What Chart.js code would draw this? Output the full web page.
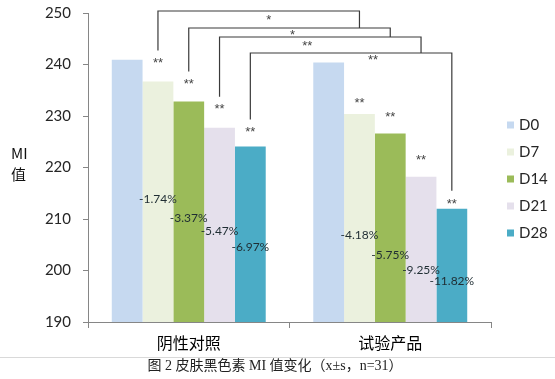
<!DOCTYPE html>
<html>
<head>
<meta charset="utf-8">
<script src="https://cdn.jsdelivr.net/npm/chart.js@4"></script>
<style>
html,body{margin:0;padding:0;background:#fff;}
#wrap{width:555px;height:379px;position:relative;}
</style>
</head>
<body>
<div id="wrap"><canvas id="c" width="555" height="379"></canvas></div>
<script>
// ---- data ----
const categories = ['阴性对照', '试验产品'];
const seriesNames = ['D0', 'D7', 'D14', 'D21', 'D28'];
const valuesD0  = [240.9, 240.4];
const valuesD7  = [236.7, 230.4];
const valuesD14 = [232.8, 226.6];
const valuesD21 = [227.7, 218.2];
const valuesD28 = [224.1, 212.0];
const pctD0  = ['', ''];
const pctD7  = ['-1.74%', '-4.18%'];
const pctD14 = ['-3.37%', '-5.75%'];
const pctD21 = ['-5.47%', '-9.25%'];
const pctD28 = ['-6.97%', '-11.82%'];
const starsD0  = ['', ''];
const starsD7  = ['**', '**'];
const starsD14 = ['**', '**'];
const starsD21 = ['**', '**'];
const starsD28 = ['**', '**'];
const bracketSeries = ['D7', 'D14', 'D21', 'D28'];
const bracketStars  = ['*', '*', '**', '**'];
const yTicks = [190, 200, 210, 220, 230, 240, 250];
const axisTitle = ['MI', '值'];
const caption = '图 2 皮肤黑色素 MI 值变化（x±s，n=31）';

// ---- styles ----
const colors = ['#c6d9f0', '#ebf1de', '#9bbb59', '#e5e0ec', '#4bacc6'];
const allValues = [valuesD0, valuesD7, valuesD14, valuesD21, valuesD28];
const allPct = [pctD0, pctD7, pctD14, pctD21, pctD28];
const allStars = [starsD0, starsD7, starsD14, starsD21, starsD28];
// label style offsets (pixels)
const pctOffsets = [[0, -3, 6, 6, 13], [0, 17, 27, 21, 16]];
const starOffsets = [[0, 21, 20, 21, 17], [0, 14, 19, 19, 7]];
const bracketLevels = [-2, 15, 24, 40];
const bracketStarDx = [10, 3, -13, 22];
const bracketStarDy = [6, 4, 6, 4];

const datasets = seriesNames.map((n, i) => ({
  label: n,
  data: allValues[i],
  backgroundColor: colors[i],
  borderWidth: 0,
  categoryPercentage: 0.764,
  barPercentage: 1.0
}));

const annot = {
  id: 'annot',
  afterDatasetsDraw(chart) {
    const ctx = chart.ctx;
    const ca = chart.chartArea;
    const yScale = chart.scales.y;
    const basePx = yScale.getPixelForValue(yTicks[0]);
    ctx.save();
    const starPos = {};
    seriesNames.forEach((n, i) => {
      const meta = chart.getDatasetMeta(i);
      meta.data.forEach((bar, j) => {
        const topPx = yScale.getPixelForValue(allValues[i][j]);
        const s = allStars[i][j];
        const sy = topPx - starOffsets[j][i];
        starPos[n + '_' + j] = {x: bar.x, y: sy};
        if (s) {
          ctx.font = '13px "Liberation Sans"';
          ctx.fillStyle = '#444';
          ctx.textAlign = 'center';
          ctx.textBaseline = 'middle';
          ctx.fillText(s, bar.x, sy + 3);
        }
        const p = allPct[i][j];
        if (p) {
          ctx.font = '12px Lato';
          ctx.fillStyle = '#1f2d33';
          ctx.textAlign = 'center';
          ctx.textBaseline = 'middle';
          ctx.fillText(p, bar.x, (topPx + basePx) / 2 + pctOffsets[j][i]);
        }
      });
    });
    // brackets
    ctx.strokeStyle = '#3a3a3a';
    ctx.lineWidth = 1.2;
    bracketSeries.forEach((n, k) => {
      const a = starPos[n + '_0'];
      const b = starPos[n + '_1'];
      const ly = ca.top + bracketLevels[k];
      const leftBottom = a.y - 10;
      const rightBottom = (k < bracketSeries.length - 1) ? ca.top + bracketLevels[k + 1] : b.y - 11;
      ctx.beginPath();
      ctx.moveTo(a.x, leftBottom);
      ctx.lineTo(a.x, ly);
      ctx.lineTo(b.x, ly);
      ctx.lineTo(b.x, rightBottom);
      ctx.stroke();
      ctx.font = '13px "Liberation Sans"';
      ctx.fillStyle = '#444';
      ctx.textAlign = 'center';
      ctx.textBaseline = 'middle';
      ctx.fillText(bracketStars[k], (a.x + b.x) / 2 + bracketStarDx[k], ly + bracketStarDy[k] + 3);
    });
    // legend
    ctx.font = '15px Lato';
    ctx.textAlign = 'left';
    ctx.textBaseline = 'middle';
    seriesNames.forEach((n, i) => {
      const y = 125 + i * 27;
      ctx.fillStyle = colors[i];
      ctx.fillRect(507, y - 3.5, 7, 7);
      ctx.fillStyle = '#262626';
      ctx.fillText(n, 519, y);
    });
    // axis title
    ctx.font = '15px "Noto Sans CJK SC"';
    ctx.fillStyle = '#111';
    ctx.fillText(axisTitle[0], 11, 153);
    ctx.fillText(axisTitle[1], 11, 174);
    // separator + caption
    ctx.strokeStyle = '#d9d9d9';
    ctx.lineWidth = 1;
    ctx.beginPath();
    ctx.moveTo(0, 357.5);
    ctx.lineTo(555, 357.5);
    ctx.stroke();
    ctx.font = '14px "Liberation Serif", "Noto Sans CJK SC"';
    ctx.fillStyle = '#222';
    ctx.textAlign = 'center';
    ctx.fillText(caption, 275, 366);
    ctx.restore();
  }
};

new Chart(document.getElementById('c'), {
  type: 'bar',
  data: { labels: categories, datasets },
  plugins: [annot],
  options: {
    responsive: false,
    animation: false,
    layout: { padding: { top: 13, right: 64, left: 0, bottom: 0 } },
    plugins: { legend: { display: false }, tooltip: { enabled: false } },
    scales: {
      x: {
        grid: { drawOnChartArea: false, tickLength: 6, color: '#868686', offset: true },
        border: { color: '#868686' },
        ticks: { font: { family: '"Noto Sans CJK SC"', size: 16 }, color: '#000', padding: 5 },
        afterFit(s) { s.height = 57; s.paddingLeft = 0; s.paddingRight = 0; }
      },
      y: {
        min: yTicks[0], max: yTicks[yTicks.length - 1],
        afterBuildTicks(s) { s.ticks = yTicks.map(v => ({ value: v })); },
        grid: { drawOnChartArea: false, tickLength: 5, color: '#868686' },
        border: { color: '#868686' },
        ticks: { font: { family: 'Lato', size: 15 }, color: '#262626', padding: 12 },
        afterFit(s) { s.width = 88; s.paddingTop = 0; s.paddingBottom = 0; }
      }
    }
  }
});
</script>
</body>
</html>
